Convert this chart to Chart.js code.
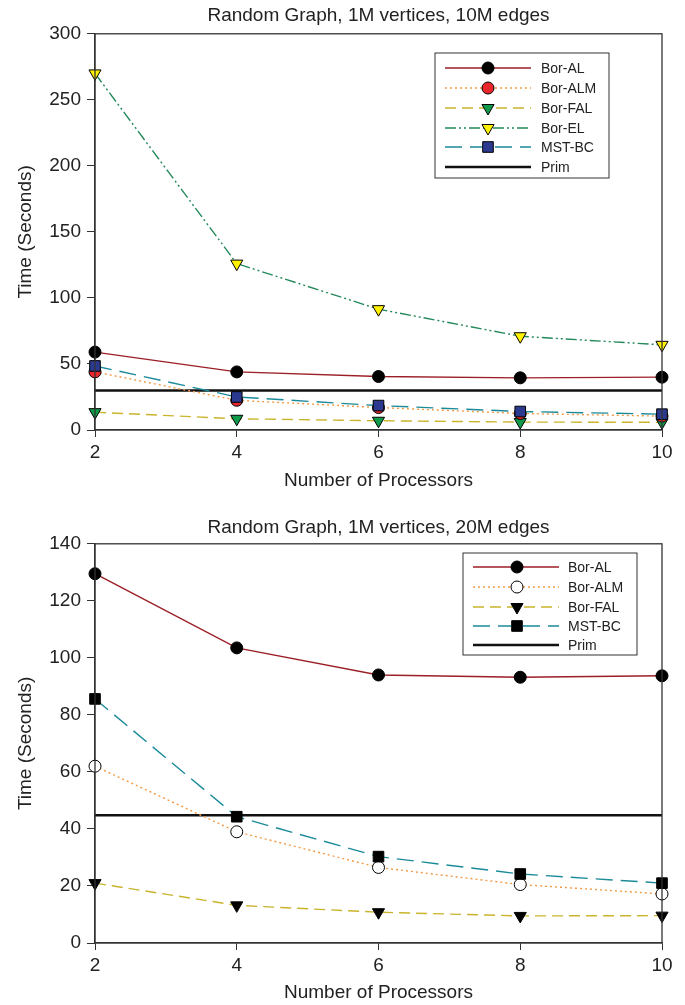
<!DOCTYPE html>
<html>
<head>
<meta charset="utf-8">
<script src="https://cdn.jsdelivr.net/npm/chart.js@4.4.1/dist/chart.umd.min.js"></script>
<style>
  body { margin: 0; background: #fff; }
  canvas { display: block; }
</style>
</head>
<body>
<canvas id="chart10M" width="685" height="500"></canvas>
<canvas id="chart20M" width="685" height="505"></canvas>
<script>
// datos
const procs = [2, 4, 6, 8, 10];
const labels10 = ['Bor-AL', 'Bor-ALM', 'Bor-FAL', 'Bor-EL', 'MST-BC', 'Prim'];
const labels20 = ['Bor-AL', 'Bor-ALM', 'Bor-FAL', 'MST-BC', 'Prim'];

// 1M vertices, 10M edges
const borAL10 = [59, 44, 40.5, 39.5, 40];
const borALM10 = [44, 22.5, 17, 12.5, 10.5];
const borFAL10 = [13.5, 8.5, 7, 6, 5.8];
const borEL10 = [270, 126, 91.5, 71, 64.5];
const mstBC10 = [48.5, 25, 18.5, 14, 12];
const prim10 = [30, 30, 30, 30, 30];

// 1M vertices, 20M edges
const borAL20 = [129.5, 103.5, 94, 93.2, 93.7];
const borALM20 = [62, 39, 26.5, 20.5, 17.2];
const borFAL20 = [21, 13.2, 10.8, 9.5, 9.6];
const mstBC20 = [85.6, 44.3, 30.3, 24.2, 21];
const prim20 = [44.8, 44.8, 44.8, 44.8, 44.8];

const FONT = "'Liberation Sans', Arial, sans-serif";
const INK = '#222';

Chart.defaults.font.family = FONT;
Chart.defaults.color = INK;

// marco superior/derecho del area
const frameBox = {
  id: 'frameBox',
  afterDraw(chart) {
    const { ctx, chartArea: a } = chart;
    ctx.save();
    ctx.strokeStyle = '#333';
    ctx.lineWidth = 1.3;
    ctx.strokeRect(a.left, a.top, a.right - a.left, a.bottom - a.top);
    ctx.restore();
  }
};

// leyenda con linea + marcador al centro
const boxLegend = {
  id: 'boxLegend',
  afterDraw(chart, args, o) {
    const ctx = chart.ctx;
    ctx.save();
    ctx.fillStyle = '#fff';
    ctx.fillRect(o.x, o.y, o.w, o.h);
    ctx.strokeStyle = '#333';
    ctx.lineWidth = 1;
    ctx.strokeRect(o.x, o.y, o.w, o.h);
    chart.data.datasets.forEach((ds, i) => {
      const y = o.rows[i];
      ctx.save();
      ctx.strokeStyle = ds.borderColor;
      ctx.lineWidth = ds.borderWidth;
      ctx.setLineDash(ds.borderDash || []);
      ctx.beginPath();
      ctx.moveTo(o.x0, y);
      ctx.lineTo(o.x1, y);
      ctx.stroke();
      ctx.restore();
      if (ds.pointRadius > 0) {
        ctx.save();
        ctx.fillStyle = ds.pointBackgroundColor;
        ctx.strokeStyle = ds.pointBorderColor;
        ctx.lineWidth = ds.pointBorderWidth;
        Chart.helpers.drawPoint(ctx, {
          pointStyle: ds.pointStyle,
          radius: ds.pointRadius,
          rotation: ds.pointRotation || 0,
          borderWidth: ds.pointBorderWidth
        }, o.mx, y);
        ctx.restore();
      }
      ctx.fillStyle = INK;
      ctx.font = '14px ' + FONT;
      ctx.textBaseline = 'middle';
      ctx.fillText(ds.label, o.tx, y + 1);
    });
    ctx.restore();
  }
};

function serie(label, data, color, dash, mark, fill, order) {
  const ds = {
    label, data, order,
    borderColor: color, borderWidth: 1.4, borderDash: dash,
    pointStyle: mark, pointBackgroundColor: fill, pointBorderColor: '#000',
    pointBorderWidth: 1, pointRadius: 6, pointHoverRadius: 6,
    tension: 0, clip: false
  };
  if (mark === 'triangle') { ds.pointRotation = 180; ds.pointRadius = 7; ds.pointHoverRadius = 7; }
  if (mark === 'rect') { ds.pointRadius = 7.5; ds.pointHoverRadius = 7.5; }
  if (!mark) { ds.pointRadius = 0; ds.pointHoverRadius = 0; ds.borderWidth = 2.5; ds.borderColor = '#111'; }
  return ds;
}

function opciones(cfg) {
  return {
    responsive: false,
    animation: false,
    layout: { padding: { left: 0, right: 23, top: 0, bottom: 0 } },
    plugins: {
      legend: { display: false },
      tooltip: { enabled: false },
      title: {
        display: true, text: cfg.title, fullSize: false,
        font: { size: 19, weight: 'normal' }, color: INK,
        padding: cfg.titlePad
      },
      boxLegend: cfg.legend
    },
    scales: {
      x: {
        type: 'linear', min: 2, max: 10,
        ticks: { stepSize: 2, font: { size: 19 }, color: INK, padding: 4 },
        grid: { drawOnChartArea: false, drawTicks: true, tickLength: 7, color: '#333' },
        border: { display: true, color: '#333', width: 1.3 },
        title: { display: true, text: 'Number of Processors', font: { size: 19 }, color: INK, padding: { top: 0, bottom: cfg.xTitleBottom } },
        afterFit: s => { s.height = cfg.xHeight; }
      },
      y: {
        min: 0, max: cfg.yMax,
        ticks: { stepSize: cfg.yStep, font: { size: 19 }, color: INK, padding: 6 },
        grid: { drawOnChartArea: false, drawTicks: true, tickLength: 8, color: '#333' },
        border: { display: true, color: '#333', width: 1.3 },
        title: { display: true, text: 'Time (Seconds)', font: { size: 19 }, color: INK, padding: { top: 14, bottom: 0 } },
        afterFit: s => { s.width = 95; }
      }
    }
  };
}

new Chart(document.getElementById('chart10M'), {
  type: 'line',
  data: {
    labels: procs,
    datasets: [
      serie(labels10[0], borAL10, '#9b1f26', [], 'circle', '#000', 1),
      serie(labels10[1], borALM10, '#f39a45', [2, 3], 'circle', '#e8262b', 3),
      serie(labels10[2], borFAL10, '#c9b42c', [11, 6], 'triangle', '#0f9a4a', 4),
      serie(labels10[3], borEL10, '#23895a', [11, 3, 2, 3, 2, 3], 'triangle', '#fff200', 5),
      serie(labels10[4], mstBC10, '#1b8a99', [17, 8], 'rect', '#2b3a8f', 2),
      serie(labels10[5], prim10, '#111', [], null, null, 6)
    ].map(d => ({ ...d, data: d.data.map((v, i) => ({ x: procs[i], y: v })) }))
  },
  options: opciones({
    title: 'Random Graph, 1M vertices, 10M edges',
    titlePad: { top: 4, bottom: 7 },
    xHeight: 70, xTitleBottom: 8,
    yMax: 300, yStep: 50,
    legend: { x: 435, y: 53, w: 174, h: 125, x0: 445, x1: 531, mx: 488, tx: 541, rows: [68, 88, 108, 128, 147, 167] }
  }),
  plugins: [frameBox, boxLegend]
});

new Chart(document.getElementById('chart20M'), {
  type: 'line',
  data: {
    labels: procs,
    datasets: [
      serie(labels20[0], borAL20, '#9b1f26', [], 'circle', '#000', 1),
      serie(labels20[1], borALM20, '#f39a45', [2, 3], 'circle', '#fff', 3),
      serie(labels20[2], borFAL20, '#c9b42c', [11, 6], 'triangle', '#000', 4),
      serie(labels20[3], mstBC20, '#1b8a99', [17, 8], 'rect', '#000', 2),
      serie(labels20[4], prim20, '#111', [], null, null, 6)
    ].map(d => ({ ...d, data: d.data.map((v, i) => ({ x: procs[i], y: v })) }))
  },
  options: opciones({
    title: 'Random Graph, 1M vertices, 20M edges',
    titlePad: { top: 16, bottom: 5 },
    xHeight: 62, xTitleBottom: 1,
    yMax: 140, yStep: 20,
    legend: { x: 463, y: 53, w: 174, h: 102, x0: 473, x1: 559, mx: 517, tx: 568, rows: [67, 87, 107, 126, 145] }
  }),
  plugins: [frameBox, boxLegend]
});
</script>
</body>
</html>
